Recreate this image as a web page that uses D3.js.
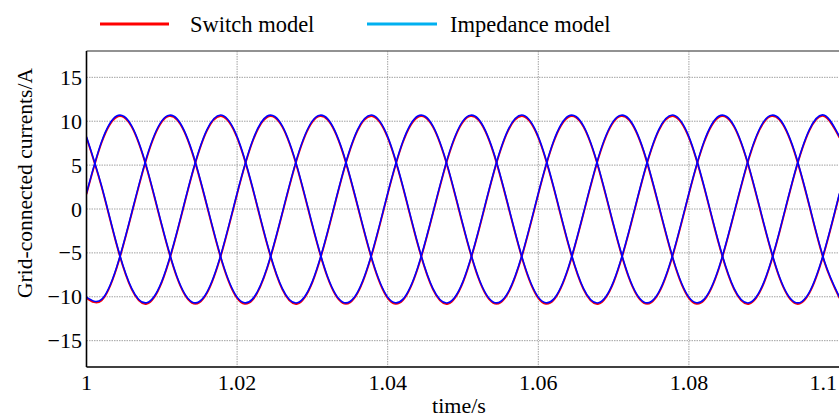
<!DOCTYPE html>
<html>
<head>
<meta charset="utf-8">
<script src="https://cdn.jsdelivr.net/npm/d3@7"></script>
<style>
  html, body { margin: 0; padding: 0; background: #fff; }
  svg { display: block; }
  text { font-family: "Liberation Serif", "Times New Roman", serif; fill: #000; }
</style>
</head>
<body>
<svg id="chart" width="839" height="417"></svg>
<script>
// ---- data ----
const time = [1.000,1.002,1.004,1.006,1.008,1.010,1.012,1.014,1.016,1.018,
              1.020,1.022,1.024,1.026,1.028,1.030,1.032,1.034,1.036,1.038,
              1.040,1.042,1.044,1.046,1.048,1.050,1.052,1.054,1.056,1.058,
              1.060,1.062,1.064,1.066,1.068,1.070,1.072,1.074,1.076,1.078,
              1.080,1.082,1.084,1.086,1.088,1.090,1.092,1.094,1.096,1.098,1.100];

const impedanceA = [1.80,7.66,10.59,9.47,4.74,-1.80,-7.66,-10.59,-9.47,-4.74,
                    1.80,7.66,10.59,9.47,4.74,-1.80,-7.66,-10.59,-9.47,-4.74,
                    1.80,7.66,10.59,9.47,4.74,-1.80,-7.66,-10.59,-9.47,-4.74,
                    1.80,7.66,10.59,9.47,4.74,-1.80,-7.66,-10.59,-9.47,-4.74,
                    1.80,7.66,10.59,9.47,4.74,-1.80,-7.66,-10.59,-9.47,-4.74,1.80];
const impedanceB = [-10.04,-10.30,-6.63,-0.43,5.94,10.04,10.30,6.63,0.43,-5.94,
                    -10.04,-10.30,-6.63,-0.43,5.94,10.04,10.30,6.63,0.43,-5.94,
                    -10.04,-10.30,-6.63,-0.43,5.94,10.04,10.30,6.63,0.43,-5.94,
                    -10.04,-10.30,-6.63,-0.43,5.94,10.04,10.30,6.63,0.43,-5.94,
                    -10.04,-10.30,-6.63,-0.43,5.94,10.04,10.30,6.63,0.43,-5.94,-10.04];
const impedanceC = [8.24,2.64,-3.96,-9.04,-10.68,-8.24,-2.64,3.96,9.04,10.68,
                    8.24,2.64,-3.96,-9.04,-10.68,-8.24,-2.64,3.96,9.04,10.68,
                    8.24,2.64,-3.96,-9.04,-10.68,-8.24,-2.64,3.96,9.04,10.68,
                    8.24,2.64,-3.96,-9.04,-10.68,-8.24,-2.64,3.96,9.04,10.68,
                    8.24,2.64,-3.96,-9.04,-10.68,-8.24,-2.64,3.96,9.04,10.68,8.24];

const switchA = [1.68,7.54,10.47,9.35,4.62,-1.92,-7.78,-10.71,-9.59,-4.86,
                 1.68,7.54,10.47,9.35,4.62,-1.92,-7.78,-10.71,-9.59,-4.86,
                 1.68,7.54,10.47,9.35,4.62,-1.92,-7.78,-10.71,-9.59,-4.86,
                 1.68,7.54,10.47,9.35,4.62,-1.92,-7.78,-10.71,-9.59,-4.86,
                 1.68,7.54,10.47,9.35,4.62,-1.92,-7.78,-10.71,-9.59,-4.86,1.68];
const switchB = [-10.16,-10.42,-6.75,-0.55,5.82,9.92,10.18,6.51,0.31,-6.06,
                 -10.16,-10.42,-6.75,-0.55,5.82,9.92,10.18,6.51,0.31,-6.06,
                 -10.16,-10.42,-6.75,-0.55,5.82,9.92,10.18,6.51,0.31,-6.06,
                 -10.16,-10.42,-6.75,-0.55,5.82,9.92,10.18,6.51,0.31,-6.06,
                 -10.16,-10.42,-6.75,-0.55,5.82,9.92,10.18,6.51,0.31,-6.06,-10.16];
const switchC = [8.12,2.52,-4.08,-9.16,-10.80,-8.36,-2.76,3.84,8.92,10.56,
                 8.12,2.52,-4.08,-9.16,-10.80,-8.36,-2.76,3.84,8.92,10.56,
                 8.12,2.52,-4.08,-9.16,-10.80,-8.36,-2.76,3.84,8.92,10.56,
                 8.12,2.52,-4.08,-9.16,-10.80,-8.36,-2.76,3.84,8.92,10.56,
                 8.12,2.52,-4.08,-9.16,-10.80,-8.36,-2.76,3.84,8.92,10.56,8.12];

const xTicks = [1, 1.02, 1.04, 1.06, 1.08, 1.1];
const xTickLabels = ["1", "1.02", "1.04", "1.06", "1.08", "1.1"];
const yTicks = [15, 10, 5, 0, -5, -10, -15];
const yTickLabels = ["15", "10", "5", "0", "\u22125", "\u221210", "\u221215"];
const seriesNames = ["Switch model", "Impedance model"];

// ---- layout ----
const svg = d3.select("#chart");
const L = 86.5, R = 839.5, T = 51, B = 367;
const x = d3.scaleLinear().domain([1, 1.1]).range([L, R]);
const y = d3.scaleLinear().domain([-18, 18]).range([B, T]);

// grid
const grid = svg.append("g");
grid.selectAll("line.h").data(yTicks).enter().append("line")
  .attr("x1", L).attr("x2", R)
  .attr("y1", d => y(d)).attr("y2", d => y(d))
  .attr("stroke", "#8a8a8a").attr("stroke-width", 0.8)
  .attr("stroke-dasharray", "1.5,1");
grid.selectAll("line.v").data(xTicks.filter(d => d > 1 && d < 1.1)).enter().append("line")
  .attr("y1", T).attr("y2", B)
  .attr("x1", d => x(d)).attr("x2", d => x(d))
  .attr("stroke", "#8a8a8a").attr("stroke-width", 0.8)
  .attr("stroke-dasharray", "1.5,1");

// clip
svg.append("clipPath").attr("id", "clip").append("rect")
  .attr("x", L).attr("y", T).attr("width", R - L).attr("height", B - T);

const line = d3.line().x((d, i) => x(time[i])).y(d => y(d)).curve(d3.curveNatural);
const plot = svg.append("g").attr("clip-path", "url(#clip)");
[switchA, switchB, switchC].forEach(s => {
  plot.append("path").datum(s).attr("d", line)
    .attr("fill", "none").attr("stroke", "#ff0000").attr("stroke-width", 1.8);
});
[impedanceA, impedanceB, impedanceC].forEach(s => {
  plot.append("path").datum(s).attr("d", line)
    .attr("fill", "none").attr("stroke", "#0000ff").attr("stroke-width", 1.6);
});

// frame
svg.append("line").attr("x1", L).attr("x2", R).attr("y1", T).attr("y2", T)
  .attr("stroke", "#6e6e6e").attr("stroke-width", 1.6);
svg.append("line").attr("x1", L).attr("x2", L).attr("y1", T).attr("y2", B)
  .attr("stroke", "#000").attr("stroke-width", 1.6);
svg.append("line").attr("x1", L).attr("x2", R).attr("y1", B).attr("y2", B)
  .attr("stroke", "#000").attr("stroke-width", 1.6);

// tick labels (last one pulled inside the window, as in the reference)
svg.selectAll("text.xt").data(xTicks).enter().append("text")
  .attr("x", (d, i) => i === xTicks.length - 1 ? 837 : x(d)).attr("y", 390)
  .attr("text-anchor", (d, i) => i === xTicks.length - 1 ? "end" : "middle")
  .attr("font-size", 22)
  .text((d, i) => xTickLabels[i]);
svg.selectAll("text.yt").data(yTicks).enter().append("text")
  .attr("x", 82).attr("y", d => y(d) + 7.5)
  .attr("text-anchor", "end").attr("font-size", 22)
  .text((d, i) => yTickLabels[i]);

// axis titles
svg.append("text").attr("x", 459).attr("y", 413)
  .attr("text-anchor", "middle").attr("font-size", 22).text("time/s");
svg.append("text").attr("transform", "translate(32,183) rotate(-90)")
  .attr("text-anchor", "middle").attr("font-size", 21.5).text("Grid-connected currents/A");

// legend
const leg = [{x1: 100, x2: 169, tx: 190, c: "#ff0000"}, {x1: 367, x2: 437, tx: 450, c: "#00b0f0"}];
leg.forEach((d, i) => {
  svg.append("line").attr("x1", d.x1).attr("x2", d.x2).attr("y1", 24).attr("y2", 24)
    .attr("stroke", d.c).attr("stroke-width", 3);
  svg.append("text").attr("x", d.tx).attr("y", 32).attr("font-size", 22.5).text(seriesNames[i]);
});
</script>
</body>
</html>
